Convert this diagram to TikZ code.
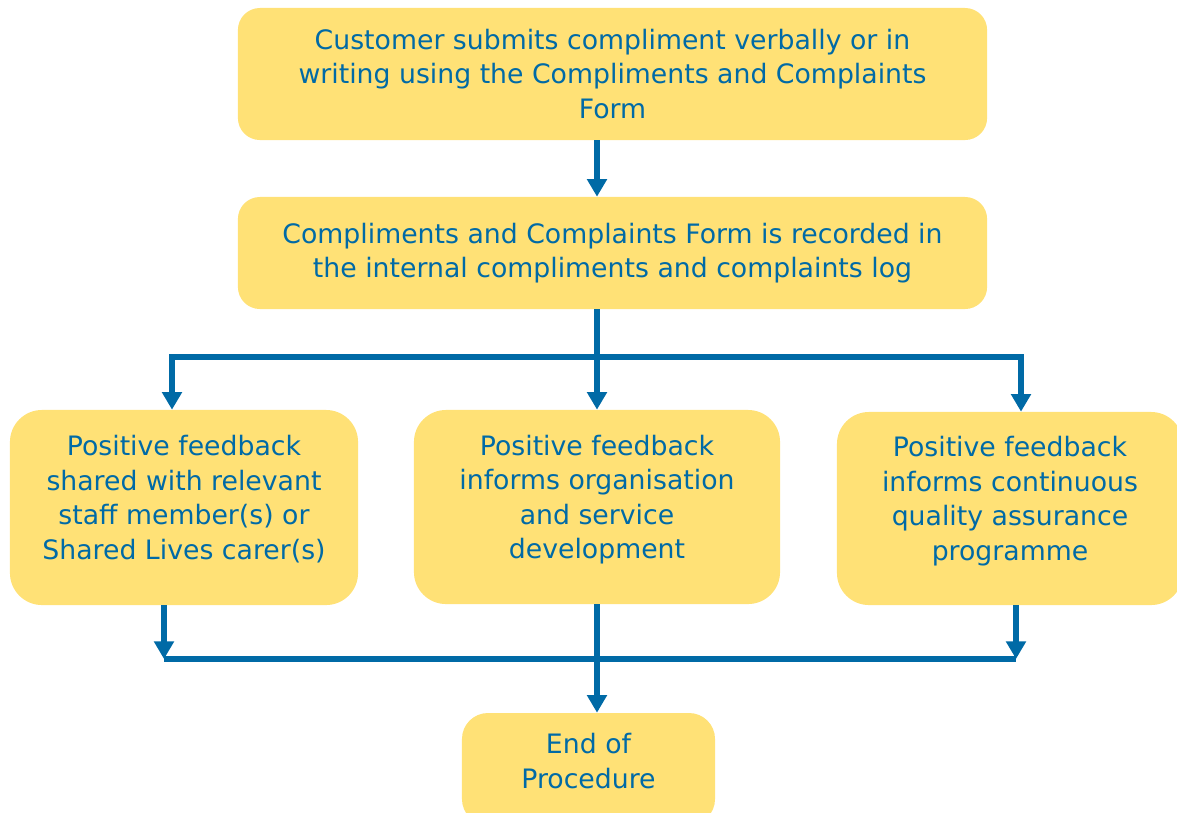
\documentclass[tikz,border=0pt]{standalone}
\usepackage{fontspec}
\setmainfont{DejaVu Sans}
\usepackage{xcolor}
\usetikzlibrary{arrows.meta}
\definecolor{flowblue}{RGB}{0,106,166}
\definecolor{flowyellow}{RGB}{255,225,118}

\begin{document}
\begin{tikzpicture}[>={Triangle[width=0.48cm, length=0.44cm]}, x=0.025cm, y=-0.025cm,
    stage/.style={fill=flowyellow, rounded corners=0.55cm, text=flowblue, align=center, inner sep=0pt, font=\fontsize{19}{24.5}\selectfont},
    option/.style={stage, rounded corners=0.8cm, text depth=14.5pt},
    link/.style={flowblue, line width=0.15cm}]
    \useasboundingbox (0, 0) rectangle (1177, 812);
    \clip (0, 0) rectangle (1177, 812);
    % boxes
    \node [stage, minimum width=18.725cm, minimum height=3.3cm] (submit) at (612.5, 74) {Customer submits compliment verbally or in\\writing using the Compliments and Complaints\\Form};
    \node [stage, minimum width=18.725cm, minimum height=2.8cm] (log) at (612.5, 253) {Compliments and Complaints Form is recorded in\\the internal compliments and complaints log};
    \node [option, minimum width=8.7cm, minimum height=4.875cm] (shared) at (184, 507.5) {Positive feedback\\shared with relevant\\staff member(s) or\\Shared Lives carer(s)};
    \node [option, minimum width=9.15cm, minimum height=4.85cm] (develop) at (597, 507) {Positive feedback\\informs organisation\\and service\\development};
    \node [option, minimum width=8.65cm, minimum height=4.825cm] (quality) at (1010, 508.5) {Positive feedback\\informs continuous\\quality assurance\\programme};
    \node [stage, rounded corners=0.65cm, text depth=11.5pt, minimum width=6.325cm, minimum height=2.8cm] (finish) at (588.5, 769) {End of\\Procedure};
    % connectors
    \coordinate (trunk) at (597, 357);
    \coordinate (fork-l) at (172, 357);
    \coordinate (fork-r) at (1021, 357);
    \coordinate (join-l) at (164, 659);
    \coordinate (join-r) at (1016, 659);
    \draw [link, ->] (submit.south -| trunk) -- (log.north -| trunk);
    \draw [link, ->] (log.south -| trunk) -- (develop.north -| trunk);
    \draw [link, <->] (shared.north -| fork-l) -- (fork-l) -- (fork-r) -- (quality.north -| fork-r);
    \draw [link, ->] (shared.south -| join-l) -- (join-l);
    \draw [link, ->] (quality.south -| join-r) -- (join-r);
    \draw [link] (join-l) -- (join-r);
    \draw [link, ->] (develop.south) -- (finish.north -| develop.south);
\end{tikzpicture}
\end{document}
